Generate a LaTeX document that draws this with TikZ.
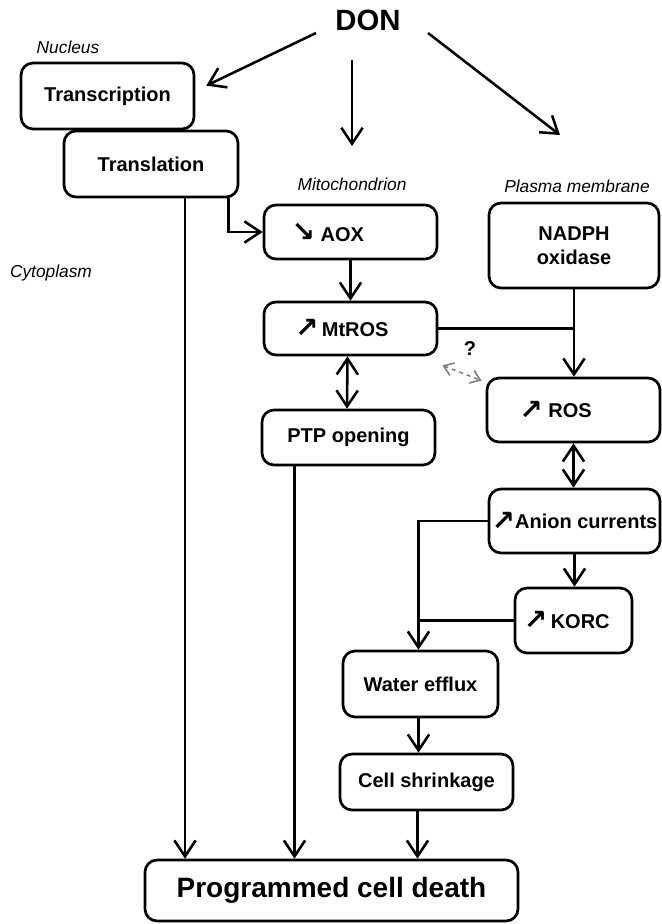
\documentclass[tikz,border=0pt]{standalone}
\usepackage{fontspec}
\setmainfont{Liberation Sans}
\newfontfamily\symf{DejaVu Sans}
\usetikzlibrary{arrows.meta}
\newcommand{\up}{{\symf\fontsize{21}{21}\selectfont\raisebox{-1pt}{↗}}}
\newcommand{\dn}{{\symf\fontsize{21}{21}\selectfont\raisebox{0pt}{↘}}}
\begin{document}
\begin{tikzpicture}[x=0.75pt,y=-0.75pt,
  box/.style={draw, line width=2pt, rounded corners=9pt, inner sep=0pt, align=center, font=\fontsize{15}{18}\selectfont\bfseries},
  lbl/.style={font=\fontsize{13}{15}\selectfont\itshape, inner sep=0pt},
  arr/.style={line width=1.9pt, -{Straight Barb[length=12pt,width=16pt]}},
  darr/.style={line width=1.9pt, {Straight Barb[length=12pt,width=16pt]}-{Straight Barb[length=12pt,width=16pt]}},
  ln/.style={line width=1.9pt}]
\useasboundingbox (0,0) rectangle (661,924);
% title and region labels
\node[font=\fontsize{22}{26}\selectfont\bfseries, inner sep=0pt] (don) at (368,20) {DON};
\node[lbl] (nucleus) at (68,47) {Nucleus};
\node[lbl] (cyto) at (51,273) {Cytoplasm};
\node[lbl] (mito) at (352,184) {Mitochondrion};
\node[lbl] (plasma) at (577,186) {Plasma membrane};
% boxes
\node[box, minimum width=129.75pt, minimum height=49.5pt] (transc) at (107.5,96) {Transcription};
\node[box, minimum width=130.5pt, minimum height=49.5pt] (transl) at (151,164) {Translation};
\node[box, minimum width=129.75pt, minimum height=40.5pt] (aox) at (350.5,232) {\dn\ AOX\hspace*{34pt}};
\node[box, minimum width=127.5pt, minimum height=63.75pt] (nadph) at (574,245.5) {NADPH\\oxidase};
\node[box, minimum width=129.75pt, minimum height=39.75pt] (mtros) at (350.5,328.5) {\up\,MtROS\hspace*{13pt}};
\node[box, minimum width=129.75pt, minimum height=41.25pt] (ptp) at (348.5,437.5) {PTP opening};
\node[box, minimum width=129.75pt, minimum height=48pt] (ros) at (573.5,410) {\up\ ROS\hspace*{27pt}};
\node[box, minimum width=128.25pt, minimum height=48pt] (anion) at (574.5,521) {\up Anion currents};
\node[box, minimum width=87.75pt, minimum height=48.75pt] (korc) at (573.5,620.5) {\up\,KORC\hspace*{10pt}};
\node[box, minimum width=116.25pt, minimum height=49.5pt] (water) at (420.5,684) {Water efflux};
\node[box, minimum width=129.75pt, minimum height=42pt] (cell) at (426.5,782) {Cell shrinkage};
\node[box, minimum width=279.75pt, minimum height=45.75pt, font=\fontsize{21}{25}\selectfont\bfseries] (pcd) at (331.5,890.5) {Programmed cell death};
\node[font=\fontsize{15}{18}\selectfont\bfseries, inner sep=0pt] (q) at (470,349) {?};
% free ends of the DON arrows
\coordinate (tipdown) at (352,146);
\coordinate (tipright) at (560,135);
% connectors
\draw[arr] ([shift={(-52,13)}]don.center) -- ([shift={(11,24)}]transc.north east);
\draw[arr] ([shift={(-16,40)}]don.center) -- (tipdown);
\draw[arr] ([shift={(60,13)}]don.center) -- (tipright);
\draw[arr] ([shift={(-11,0)}]transl.south east) |- (aox.west);
\draw[arr] ([shift={(34,0)}]transl.south) -- ([shift={(34,0)}]transl.south |- pcd.north);
\draw[arr] (aox.south) -- (mtros.south |- mtros.north);
\draw[darr] ([shift={(-3,0)}]mtros.south) -- ([shift={(-1.5,0)}]ptp.north);
\draw[ln] (mtros.east) -- (nadph.south |- mtros.east);
\draw[arr] (nadph.south) -- (nadph.south |- ros.north);
\draw[gray, dashed, line width=1.2pt, {Straight Barb[length=7pt,width=10pt]}-{Straight Barb[length=7pt,width=10pt]}]
  ([shift={(4,9)}]mtros.south east) -- ([shift={(-4,4)}]ros.north west);
\draw[darr] (ros.south) -- (ros.south |- anion.north);
\draw[arr] (anion.south) -- (anion.south |- korc.north);
\draw[arr] (anion.west) -| ([shift={(-2,0)}]water.north);
\draw[ln] (korc.west) -- ([shift={(-2,0)}]water.north |- korc.west);
\draw[arr] ([shift={(-2,0)}]water.south) -- ([shift={(-2,0)}]water.south |- cell.north);
\draw[arr] ([shift={(-3,0)}]water.south |- cell.south) -- ([shift={(-3,0)}]water.south |- pcd.north);
\draw[arr] ([shift={(-54,0)}]ptp.south) -- ([shift={(-54,0)}]ptp.south |- pcd.north);
\end{tikzpicture}
\end{document}
